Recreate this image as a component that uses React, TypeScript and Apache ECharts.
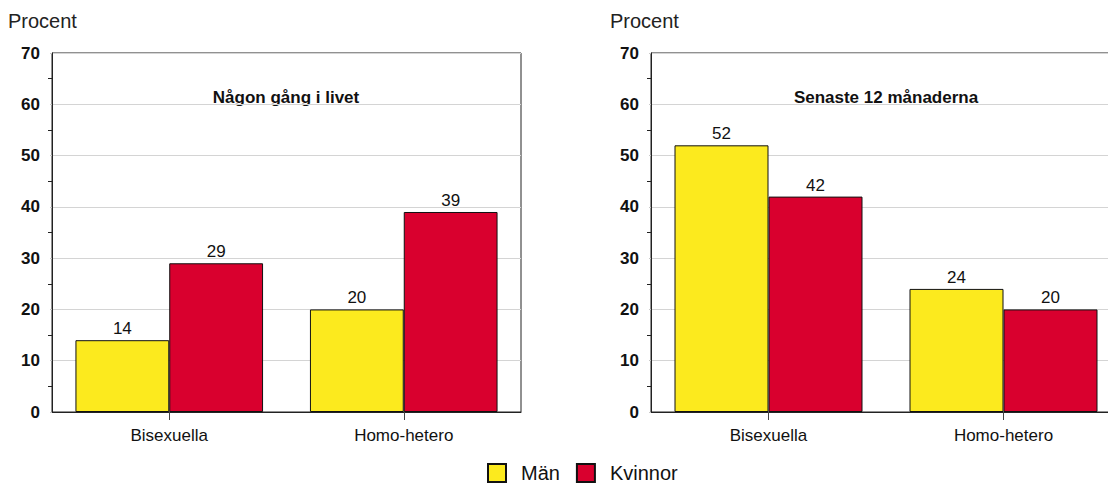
import React, { useEffect, useRef } from "react";
import * as echarts from "echarts";

const categories = ["Bisexuella", "Homo-hetero"];
const seriesNames = ["Män", "Kvinnor"];
const livetMan = [14, 20];
const livetKvinnor = [29, 39];
const senasteMan = [52, 24];
const senasteKvinnor = [42, 20];
const panelTitles = ["Någon gång i livet", "Senaste 12 månaderna"];
const yTitle = "Procent";

const YELLOW = "#FCEA1E";
const RED = "#D9002E";
const FONT = "Liberation Sans, Arial, sans-serif";

export default function App() {
  const ref = useRef<HTMLDivElement>(null);
  useEffect(() => {
    if (!ref.current) return;
    const chart = echarts.init(ref.current, null, { renderer: "svg" });
    const grids = [
      { left: 52, top: 53, width: 469, height: 359 },
      { left: 651, top: 53, width: 470, height: 359 },
    ];
    const yAxis = grids.map((_, i) => ({
      type: "value",
      gridIndex: i,
      min: 0,
      max: 70,
      interval: 10,
      axisLine: { show: true, lineStyle: { color: "#222", width: 1 } },
      axisTick: { show: true, length: 2, lineStyle: { color: "#c8c8c8" } },
      minorTick: { show: true, splitNumber: 2, length: 4, lineStyle: { color: "#222" } },
      axisLabel: { fontFamily: FONT, fontSize: 17, fontWeight: "bold", color: "#111", margin: 12 },
      splitLine: { show: true, lineStyle: { color: "#d4d4d4", width: 1 } },
    }));
    const xAxis = grids.map((_, i) => ({
      type: "category",
      gridIndex: i,
      data: categories,
      axisLine: { show: true, lineStyle: { color: "#222", width: 1 } },
      axisTick: { show: true, alignWithLabel: true, length: 8, lineStyle: { color: "#444" } },
      axisLabel: { fontFamily: FONT, fontSize: 17, color: "#111", margin: 15 },
    }));
    const mk = (name: string, data: number[], idx: number, color: string) => ({
      type: "bar",
      name,
      data,
      xAxisIndex: idx,
      yAxisIndex: idx,
      barGap: "0%",
      barCategoryGap: "20%",
      itemStyle: { color, borderColor: "#111", borderWidth: 1 },
      label: { show: true, position: "top", fontFamily: FONT, fontSize: 17, color: "#111", distance: 3 },
    });
    chart.setOption({
      animation: false,
      backgroundColor: "#fff",
      grid: grids.map((g) => ({ ...g, show: true, borderColor: "#222", borderWidth: 1, backgroundColor: "transparent" })),
      xAxis,
      yAxis,
      legend: {
        data: seriesNames,
        left: 487,
        top: 463,
        padding: 0,
        icon: "rect",
        itemWidth: 18,
        itemHeight: 18,
        itemGap: 16,
        textStyle: { fontFamily: FONT, fontSize: 20, color: "#111", padding: [0, 0, 0, 10] },
      },
      graphic: [
        { type: "text", left: 8, top: 11, style: { text: yTitle, font: `20px ${FONT}`, fill: "#222" } },
        { type: "text", left: 610, top: 11, style: { text: yTitle, font: `20px ${FONT}`, fill: "#222" } },
        { type: "text", x: 286, y: 97, style: { text: panelTitles[0], font: `bold 17px ${FONT}`, fill: "#111", align: "center", verticalAlign: "middle" } },
        { type: "text", x: 886, y: 97, style: { text: panelTitles[1], font: `bold 17px ${FONT}`, fill: "#111", align: "center", verticalAlign: "middle" } },
      ],
      series: [
        mk(seriesNames[0], livetMan, 0, YELLOW),
        mk(seriesNames[1], livetKvinnor, 0, RED),
        mk(seriesNames[0], senasteMan, 1, YELLOW),
        mk(seriesNames[1], senasteKvinnor, 1, RED),
      ],
    });
    return () => chart.dispose();
  }, []);
  return (
    <div style={{ position: "absolute", left: 0, top: 0, width: 1108, height: 486, overflow: "hidden" }}>
      <div ref={ref} style={{ width: 1140, height: 486 }} />
    </div>
  );
}
